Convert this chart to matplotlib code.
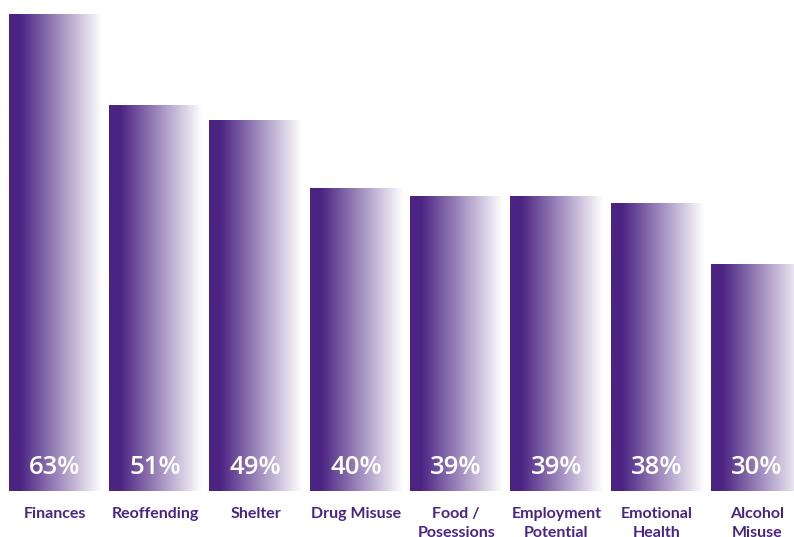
import numpy as np
import matplotlib.pyplot as plt
from matplotlib.colors import LinearSegmentedColormap

categories = ["Finances", "Reoffending", "Shelter", "Drug Misuse", "Food /\nPosessions",
              "Employment\nPotential", "Emotional\nHealth", "Alcohol\nMisuse"]
values = [63, 51, 49, 40, 39, 39, 38, 30]

purple = "#4b2483"
cmap = LinearSegmentedColormap.from_list("fade", [(0, purple), (0.12, purple), (1, "white")])

fig = plt.figure(figsize=(7.94, 5.37), dpi=100)
ax = fig.add_axes([0, 0, 1, 1])
ax.set_xlim(-0.548, 7.368)
ax.set_ylim(-6.08, 64.86)
ax.axis("off")

bars = ax.bar(range(len(values)), values, width=0.92, color="none", edgecolor="none")
grad = np.linspace(0, 1, 256).reshape(1, -1)
for b in bars:
    x0, y0 = b.get_x(), b.get_y()
    im = ax.imshow(grad, cmap=cmap, aspect="auto", interpolation="bicubic",
                   extent=[x0, x0 + b.get_width(), y0, y0 + b.get_height()], zorder=1)
    im.set_clip_path(b)

for i, v in enumerate(values):
    ax.text(i, 3.1, f"{v}%", ha="center", va="center", color="white",
            fontsize=18.5, fontweight="semibold", family="Open Sans", zorder=3)
    ax.text(i, -2.15, categories[i], ha="center", va="top", color=purple,
            fontsize=11.5, fontweight="bold", family="Lato", linespacing=1.45)

fig.savefig("out.png", dpi=100)
